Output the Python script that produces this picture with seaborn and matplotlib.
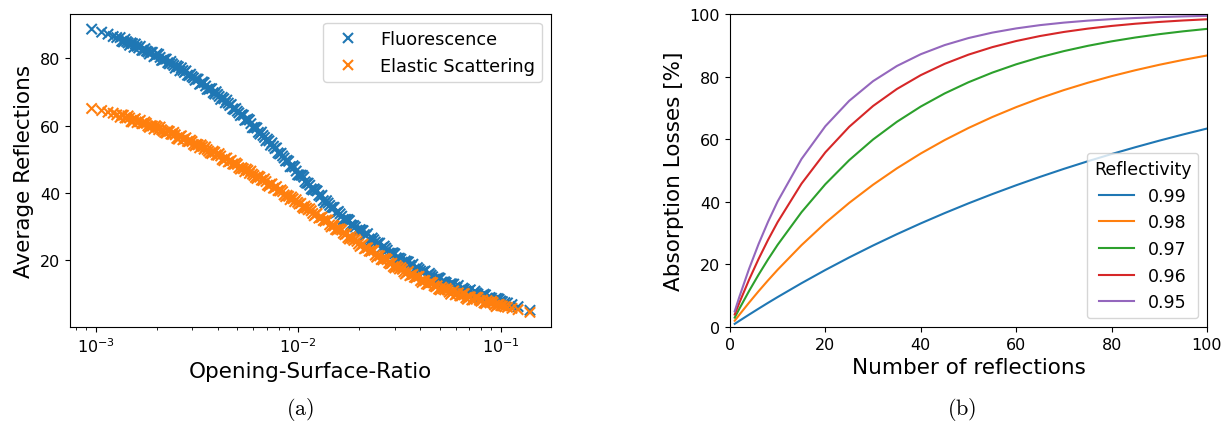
import pandas as pd
import numpy as np
import seaborn as sns
import matplotlib.pyplot as plt

plt.rcParams['mathtext.fontset'] = 'cm'

# (a) opening-surface-ratio of the simulated geometries (shared by both processes)
osr = [
    0.000955, 0.00107, 0.00115, 0.00122, 0.00127,
    0.00132, 0.00137, 0.00142, 0.00147, 0.00152, 0.00157, 0.00163, 0.00169, 0.00175, 0.00181,
    0.00187, 0.00194, 0.00201, 0.00208, 0.00215, 0.00223, 0.00231, 0.00239, 0.00247, 0.00256,
    0.00265, 0.00274, 0.00284, 0.00294, 0.00304, 0.00315, 0.00326, 0.00337, 0.00349, 0.00361,
    0.00374, 0.00387, 0.00400, 0.00414, 0.00429, 0.00444, 0.00459, 0.00475, 0.00492, 0.00509,
    0.00527, 0.00545, 0.00564, 0.00584, 0.00604, 0.00625, 0.00647, 0.00670, 0.00693, 0.00717,
    0.00742, 0.00768, 0.00795, 0.00823, 0.00852, 0.00881, 0.00912, 0.00944, 0.00977,
    0.0101, 0.0105, 0.0108, 0.0112, 0.0116, 0.0120, 0.0124, 0.0129, 0.0133, 0.0138,
    0.0143, 0.0148, 0.0153, 0.0158, 0.0164, 0.0170, 0.0176, 0.0182, 0.0188, 0.0195,
    0.0202, 0.0209, 0.0216, 0.0224, 0.0232, 0.0240, 0.0248, 0.0257, 0.0266, 0.0275,
    0.0285, 0.0295, 0.0305, 0.0316, 0.0327, 0.0338, 0.0350, 0.0362, 0.0375, 0.0388,
    0.0402, 0.0416, 0.0430, 0.0445, 0.0461, 0.0477, 0.0494, 0.0511, 0.0529, 0.0547,
    0.0566, 0.0586, 0.0607, 0.0628, 0.0650, 0.0673, 0.0696, 0.0720, 0.0746, 0.0772,
    0.0799, 0.0827, 0.0856, 0.0886, 0.0917, 0.0949, 0.0982,
    0.102, 0.105, 0.108, 0.1137, 0.1218, 0.1395,
    # second batch of geometries
    0.001345, 0.001395, 0.001445, 0.001495, 0.001545, 0.00160, 0.00166, 0.00172, 0.00178, 0.00184,
    0.001905, 0.001975, 0.002045, 0.002115, 0.00219, 0.00227, 0.00235, 0.00243, 0.002515, 0.002605,
    0.002695, 0.00279, 0.00289, 0.00299, 0.003095, 0.003205, 0.003315, 0.00343, 0.00355, 0.003675,
    0.003805, 0.003935, 0.00407, 0.004215, 0.004365, 0.004515, 0.00467, 0.004835, 0.005005, 0.00518,
    0.00536, 0.005545, 0.00574, 0.00594, 0.006145, 0.00636, 0.006585, 0.006815, 0.00705, 0.007295,
    0.00755, 0.007815, 0.00809, 0.008375, 0.008665, 0.008965, 0.00928, 0.009605, 0.009935,
    0.0103, 0.01065, 0.0110, 0.0114, 0.0118, 0.0122, 0.01265, 0.0131, 0.01355, 0.01405,
    0.01455, 0.01505, 0.01555, 0.0161, 0.0167, 0.0173, 0.0179, 0.0185, 0.01915, 0.01985,
    0.02055, 0.02125, 0.0220, 0.0228, 0.0236, 0.0244, 0.02525, 0.02615, 0.02705, 0.0280,
    0.0290, 0.0300, 0.03105, 0.03215, 0.03325, 0.0344, 0.0356, 0.03685, 0.03815, 0.0395,
    0.0409, 0.0423, 0.04375, 0.0453, 0.0469, 0.04855, 0.05025, 0.0520, 0.0538, 0.05565,
    0.0576, 0.05965, 0.06175, 0.0639, 0.06615, 0.06845, 0.0708, 0.0733, 0.0759, 0.07855,
    0.0813, 0.08415, 0.0871, 0.09015, 0.0933, 0.09655, 0.1000,
]

fluorescence = [
    88.7, 87.8, 87.2, 86.5, 86.2,
    86.2, 84.9, 85.0, 83.9, 84.4, 84.3, 83.1, 82.4, 82.9, 81.9,
    81.8, 80.5, 81.4, 80.3, 79.5, 79.8, 78.4, 78.4, 77.1, 77.5,
    77.2, 75.8, 75.0, 75.3, 74.2, 73.9, 72.3, 73.0, 71.8, 70.8,
    71.0, 69.4, 69.3, 67.8, 68.0, 67.6, 66.0, 65.0, 65.1, 63.8,
    63.3, 61.6, 62.0, 60.6, 59.4, 59.3, 57.5, 57.1, 55.5, 55.5,
    54.9, 53.2, 51.9, 51.8, 50.4, 49.7, 47.8, 48.1, 46.5,
    45.3, 45.2, 43.3, 42.9, 41.2, 41.2, 40.6, 38.9, 37.7, 37.7,
    36.3, 35.7, 34.0, 34.5, 33.1, 32.1, 32.1, 30.5, 30.3, 28.9,
    29.1, 28.8, 27.3, 26.3, 26.6, 25.4, 25.1, 23.5, 24.2, 23.0,
    22.0, 22.2, 20.7, 20.6, 19.4, 19.8, 19.5, 18.2, 17.4, 17.8,
    16.8, 16.6, 15.3, 16.1, 15.1, 14.4, 14.8, 13.5, 13.6, 12.5,
    13.0, 12.9, 11.8, 11.1, 11.7, 10.9, 10.9, 9.7, 10.8, 9.9,
    9.3, 9.9, 8.7, 8.9, 8.0, 8.6, 8.4,
    7.7, 7.4, 7.3, 6.8, 6.2, 5.1,
    85.1, 85.7, 84.6, 84.6, 83.3, 83.6, 83.6, 82.4, 82.2, 81.3,
    81.8, 80.8, 81.2, 79.4, 79.8, 78.7, 79.1, 77.9, 77.8, 76.3,
    76.4, 76.3, 74.9, 74.6, 73.5, 73.8, 72.5, 72.8, 70.8, 71.0,
    69.8, 70.1, 68.7, 68.4, 66.8, 66.7, 66.3, 64.8, 64.3, 63.0,
    63.1, 61.7, 61.7, 59.4, 59.5, 58.0, 58.1, 56.5, 56.0, 54.2,
    53.9, 53.4, 51.6, 51.0, 49.5, 49.4, 47.8, 47.7, 45.4,
    45.3, 44.7, 42.9, 42.3, 40.9, 40.8, 39.3, 39.3, 37.0, 37.0,
    35.6, 35.7, 34.2, 33.8, 32.1, 32.1, 31.8, 30.3, 29.9, 28.7,
    28.9, 27.6, 27.9, 25.8, 26.1, 24.8, 25.1, 23.8, 23.6, 22.1,
    22.1, 21.9, 20.5, 20.3, 19.2, 19.6, 18.5, 18.8, 16.9, 17.3,
    16.3, 16.8, 15.7, 15.6, 14.3, 14.6, 14.6, 13.4, 13.3, 12.4,
    12.9, 12.0, 12.5, 10.8, 11.4, 10.5, 11.2, 10.2, 10.3, 9.2,
    9.6, 9.7, 8.7, 8.7, 8.0, 8.6, 7.9,
]

elastic = [
    65.1, 64.5, 64.0, 63.7, 63.2,
    62.5, 63.1, 62.3, 62.3, 61.1, 62.1, 61.2, 60.6, 61.1, 59.9,
    60.0, 59.0, 59.6, 59.6, 58.4, 57.8, 58.3, 57.4, 57.3, 56.0,
    57.0, 56.0, 55.3, 55.7, 54.4, 54.5, 53.4, 53.8, 53.7, 52.4,
    51.7, 52.1, 51.2, 51.0, 49.6, 50.4, 49.4, 48.6, 48.9, 47.5,
    47.5, 46.3, 46.7, 46.5, 45.2, 44.3, 44.7, 43.7, 43.4, 42.0,
    42.7, 41.5, 40.7, 40.9, 39.4, 39.3, 38.0, 38.3, 38.0,
    36.7, 35.8, 36.1, 35.0, 34.7, 33.2, 33.9, 32.7, 31.8, 32.0,
    30.5, 30.4, 29.1, 29.3, 29.0, 27.6, 26.7, 27.0, 25.9, 25.6,
    24.1, 24.8, 23.6, 22.7, 23.0, 21.5, 21.4, 20.2, 20.5, 20.2,
    18.9, 18.1, 18.4, 17.4, 17.3, 15.9, 16.7, 15.6, 14.9, 15.2,
    13.9, 14.0, 12.9, 13.3, 13.3, 12.1, 11.4, 12.0, 11.2, 11.1,
    9.9, 10.9, 10.0, 9.4, 10.0, 8.8, 9.1, 8.2, 8.8, 8.9,
    7.8, 7.3, 8.0, 7.3, 7.4, 6.2, 6.9,
    6.4, 6.2, 6.0, 5.7, 5.3, 4.5,
    63.2, 62.3, 62.9, 61.2, 61.8, 60.9, 61.6, 60.6, 60.7, 59.5,
    59.9, 60.0, 58.8, 58.8, 58.0, 58.5, 57.5, 58.0, 56.2, 56.8,
    55.8, 56.4, 55.3, 55.3, 54.0, 54.3, 54.3, 53.0, 52.9, 51.9,
    52.4, 51.3, 51.7, 49.9, 50.3, 49.2, 49.7, 48.5, 48.5, 47.1,
    47.2, 47.1, 45.8, 45.6, 44.6, 45.0, 43.8, 44.2, 42.3, 42.6,
    41.4, 41.9, 40.6, 40.4, 38.9, 39.0, 38.8, 37.4, 37.2,
    36.9, 35.4, 35.5, 35.3, 33.9, 33.6, 32.5, 32.8, 31.6, 31.9,
    29.9, 30.2, 29.0, 29.3, 28.0, 27.8, 26.3, 26.4, 26.2, 24.8,
    24.5, 23.4, 23.7, 22.6, 22.9, 20.9, 21.3, 20.1, 20.5, 19.2,
    19.1, 17.7, 17.9, 17.8, 16.5, 16.3, 15.4, 15.8, 14.8, 15.2,
    13.4, 13.9, 12.8, 13.5, 12.4, 12.4, 11.2, 11.5, 11.6, 10.5,
    10.5, 9.7, 10.3, 9.4, 10.1, 8.4, 9.1, 8.2, 9.0, 8.1,
    8.2, 7.1, 7.6, 7.8, 6.7, 6.8, 6.5,
]

# (b) absorption losses vs number of reflections
n_reflections = [1, 2, 4, 6, 8, 10, 15, 20, 25, 30, 35, 40, 45, 50, 55, 60, 65, 70, 75, 80, 85, 90, 95, 100]
reflectivities = ['0.99', '0.98', '0.97', '0.96', '0.95']
loss_099 = [1.0, 1.99, 3.94, 5.85, 7.73, 9.56, 13.99, 18.21, 22.22, 26.03, 29.65, 33.10, 36.38, 39.50,
            42.46, 45.28, 47.96, 50.52, 52.94, 55.25, 57.44, 59.53, 61.51, 63.40]
loss_098 = [2.0, 3.96, 7.76, 11.42, 14.92, 18.29, 26.14, 33.24, 39.65, 45.45, 50.69, 55.43, 59.71, 63.58,
            67.08, 70.24, 73.10, 75.69, 78.02, 80.14, 82.04, 83.77, 85.33, 86.74]
loss_097 = [3.0, 5.91, 11.47, 16.70, 21.63, 26.26, 36.67, 45.62, 53.30, 59.90, 65.56, 70.43, 74.61, 78.19,
            81.27, 83.92, 86.19, 88.14, 89.82, 91.26, 92.49, 93.55, 94.46, 95.24]
loss_096 = [4.0, 7.84, 15.07, 21.72, 27.86, 33.52, 45.79, 55.80, 63.96, 70.61, 76.04, 80.46, 84.07, 87.01,
            89.41, 91.36, 92.96, 94.26, 95.32, 96.18, 96.89, 97.46, 97.93, 98.31]
loss_095 = [5.0, 9.75, 18.55, 26.49, 33.66, 40.13, 53.67, 64.15, 72.26, 78.54, 83.39, 87.15, 90.06, 92.31,
            94.05, 95.39, 96.44, 97.24, 97.87, 98.35, 98.72, 99.01, 99.23, 99.41]

df_a = pd.concat([
    pd.DataFrame({'osr': osr, 'avg': fluorescence, 'process': 'Fluorescence'}),
    pd.DataFrame({'osr': osr, 'avg': elastic, 'process': 'Elastic Scattering'}),
])

losses = [loss_099, loss_098, loss_097, loss_096, loss_095]
df_b = pd.concat([pd.DataFrame({'n': n_reflections, 'loss': l, 'Reflectivity': r})
                  for r, l in zip(reflectivities, losses)])

fig = plt.figure(figsize=(12.27, 4.27), dpi=100)
ax1 = fig.add_axes([0.0570, 0.2319, 0.3920, 0.7330])
ax2 = fig.add_axes([0.5949, 0.2319, 0.3888, 0.7330])

# left panel
sns.scatterplot(data=df_a, x='osr', y='avg', hue='process', marker='x', s=55,
                linewidth=1.5, ax=ax1)
ax1.set_xscale('log')
ax1.set_xlim(7.46e-4, 0.177)
ax1.set_ylim(0.15, 93.2)
ax1.set_yticks([20, 40, 60, 80])
ax1.set_xlabel('Opening-Surface-Ratio', fontsize=15.5)
ax1.set_ylabel('Average Reflections', fontsize=15.5)
ax1.tick_params(labelsize=11.5)
sns.move_legend(ax1, 'upper right', title=None, fontsize=12.8)

# right panel
sns.lineplot(data=df_b, x='n', y='loss', hue='Reflectivity', hue_order=reflectivities,
             linewidth=1.5, ax=ax2)
ax2.set_xlim(0, 100)
ax2.set_ylim(0, 100)
ax2.set_xticks([0, 20, 40, 60, 80, 100])
ax2.set_yticks([0, 20, 40, 60, 80, 100])
ax2.set_xlabel('Number of reflections', fontsize=15.5)
ax2.set_ylabel('Absorption Losses [%]', fontsize=15.5)
ax2.tick_params(labelsize=11.5)
sns.move_legend(ax2, 'lower right', title='Reflectivity', fontsize=12.5, title_fontsize=12.5)

fig.text(300 / 1227, 1 - 410 / 427, r'$\mathrm{(a)}$', fontsize=16, ha='center', va='center')
fig.text(962 / 1227, 1 - 410 / 427, r'$\mathrm{(b)}$', fontsize=16, ha='center', va='center')

fig.savefig('out.png', dpi=100)
